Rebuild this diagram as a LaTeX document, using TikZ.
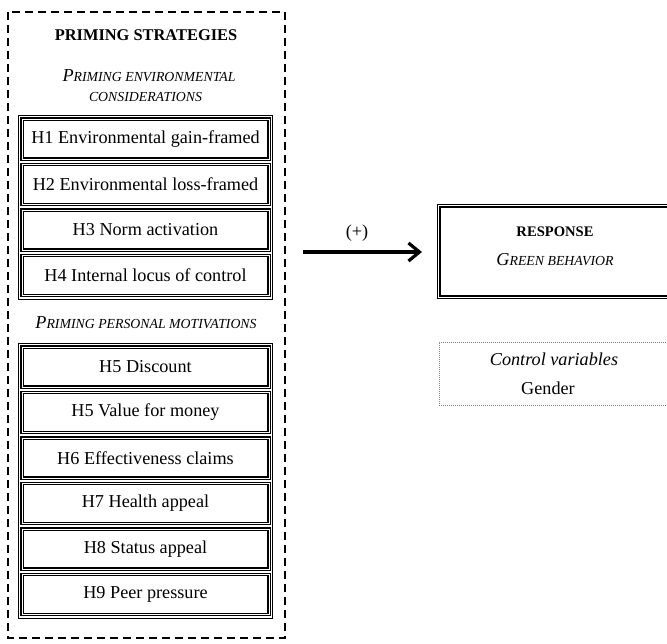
\documentclass[tikz,border=0pt]{standalone}
\usepackage{fontspec}
\setmainfont{Liberation Serif}
\usetikzlibrary{arrows.meta}
\usetikzlibrary{fit}
\newcommand\fakesc[1]{{\fontsize{6.9}{8}\selectfont #1}}
\newcommand\bodyfont{\fontsize{9.1}{11}\selectfont}

\begin{document}
\begin{tikzpicture}[x=0.5pt,y=-0.5pt,
  itembox/.style={draw,double,line width=0.55pt,double distance=0.45pt,minimum width=123.5pt,minimum height=20pt,inner sep=0pt,font=\bodyfont},
  groupbox/.style={draw,line width=0.6pt,inner sep=1.6pt},
  italtext/.style={font=\bodyfont\itshape,inner sep=0pt}]
\useasboundingbox (0,0) rectangle (667,643);
\draw[line width=0.6pt,dash pattern=on 4pt off 2.5pt] (8,12) rectangle (285,638);
\node[font=\fontsize{8.2}{10}\selectfont\bfseries] (title) at (146,35) {PRIMING STRATEGIES};
\node[italtext] (envhead) at (149,76) {P\fakesc{RIMING ENVIRONMENTAL}};
\node[italtext] (envhead2) at (145.5,97) {\fakesc{CONSIDERATIONS}};
% environmental considerations
\node[itembox] (h1) at (145.5,139) {H1 Environmental gain-framed};
\node[itembox] (h2) at (145.5,184.5) {H2 Environmental loss-framed};
\node[itembox] (h3) at (145.5,230) {H3 Norm activation};
\node[itembox] (h4) at (145.5,275.5) {H4 Internal locus of control};
\node[groupbox,fit=(h1)(h4)] (envgroup) {};
\node[italtext] (pershead) at (146,323) {P\fakesc{RIMING PERSONAL MOTIVATIONS}};
% personal motivations
\node[itembox] (h5a) at (145.5,367) {H5 Discount};
\node[itembox] (h5b) at (145.5,412.5) {H5 Value for money};
\node[itembox] (h6) at (145.5,458) {H6 Effectiveness claims};
\node[itembox] (h7) at (145.5,503.5) {H7 Health appeal};
\node[itembox] (h8) at (145.5,549) {H8 Status appeal};
\node[itembox] (h9) at (145.5,594.5) {H9 Peer pressure};
\node[groupbox,fit=(h5a)(h9)] (persgroup) {};
% arrow to response
\coordinate (arrowstart) at (303,252);
\coordinate (arrowend) at (422,252);
\draw[line width=1.6pt,-{Straight Barb[length=5.5pt,width=9pt]}] (arrowstart) -- (arrowend);
\node[font=\bodyfont] (sign) at (357,233) {(+)};
% response
\node[draw,line width=0.5pt,minimum width=117.5pt,minimum height=47pt,anchor=north west,inner sep=0pt] (resp) at (437,204) {};
\draw[line width=1pt] ([shift={(1.5pt,-1.5pt)}]resp.north west) rectangle ([shift={(-1.5pt,1.5pt)}]resp.south east);
\node[font=\fontsize{7.3}{9}\selectfont\bfseries] (resptitle) at (555,232) {RESPONSE};
\node[italtext] (respsub) at (555,260) {G\fakesc{REEN BEHAVIOR}};
% control variables
\node[draw=gray,line width=0.4pt,dash pattern=on 0.5pt off 0.5pt,minimum width=116.5pt,minimum height=31.5pt,anchor=north west,inner sep=0pt] (ctrl) at (439,342) {};
\node[italtext] (ctrltitle) at (554,359) {Control variables};
\node[font=\bodyfont] (gender) at (548,388) {Gender};
\end{tikzpicture}
\end{document}
